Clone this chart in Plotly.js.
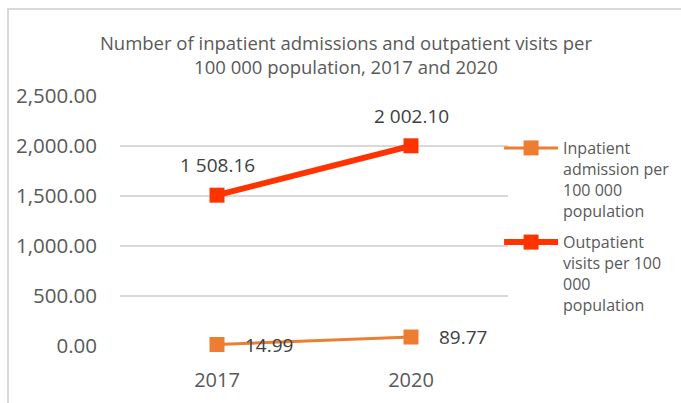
<!DOCTYPE html>
<html><head><meta charset="utf-8">
<script src="https://cdn.plot.ly/plotly-3.0.1.min.js"></script>
<style>
html,body{margin:0;padding:0;overflow:hidden;background:#fff;}
#frame{position:absolute;left:7px;top:8px;width:720px;height:430px;border:2px solid #d9d9d9;pointer-events:none;}
</style>
</head><body>
<div id="chart" style="position:absolute;left:0;top:0;width:681px;height:403px;"></div>
<div id="frame"></div>
<script>
const years = ['2017', '2020'];
const inpatient = [14.99, 89.77];
const outpatient = [1508.16, 2002.10];
const seriesNames = ['Inpatient<br>admission per<br>100 000<br>population', 'Outpatient<br>visits per 100<br>000<br>population'];
const yTicks = [0, 500, 1000, 1500, 2000, 2500];

function fmtSpace(v){
  const s = v.toFixed(2);
  const parts = s.split('.');
  return parts[0].replace(/\B(?=(\d{3})+(?!\d))/g, ' ') + '.' + parts[1];
}
function fmtComma(v){
  const s = v.toFixed(2);
  const parts = s.split('.');
  return parts[0].replace(/\B(?=(\d{3})+(?!\d))/g, ',') + '.' + parts[1];
}

const FONT = 'Open Sans, sans-serif';
const traces = [
  {x: years, y: inpatient, name: seriesNames[0], type: 'scatter', mode: 'lines+markers',
   legendgroup: 'a', cliponaxis: false,
   line: {color: '#ED7D31', width: 3}, marker: {symbol: 'square', size: 15, color: '#ED7D31'}},
  {x: years, y: outpatient, name: seriesNames[1], type: 'scatter', mode: 'lines+markers',
   legendgroup: 'b', cliponaxis: false,
   line: {color: '#FF3300', width: 6}, marker: {symbol: 'square', size: 15, color: '#FF3300'}}
];

const annotations = [];
years.forEach((yr, i) => {
  // category axis: position annotations by category index
  annotations.push({xref: 'x', yref: 'y', x: i, y: inpatient[i], text: fmtSpace(inpatient[i]), showarrow: false,
    xanchor: 'left', yanchor: 'middle', xshift: 26, font: {family: FONT, size: 19, color: '#404040'}});
  annotations.push({xref: 'x', yref: 'y', x: i, y: outpatient[i], text: fmtSpace(outpatient[i]), showarrow: false,
    xanchor: 'center', yanchor: 'middle', yshift: 30, font: {family: FONT, size: 19, color: '#404040'}});
});

const layout = {
  width: 681, height: 403,
  margin: {l: 120, r: 173, t: 96, b: 57, autoexpand: false},
  paper_bgcolor: 'rgba(0,0,0,0)', plot_bgcolor: 'rgba(0,0,0,0)',
  title: {text: 'Number of inpatient admissions and outpatient visits per<br>100 000 population, 2017 and 2020',
    xref: 'container', x: 0.508, xanchor: 'center', yref: 'container', y: 1 - 50/403, yanchor: 'top',
    font: {family: FONT, size: 18.5, color: '#595959'}},
  xaxis: {type: 'category', range: [-0.5, 1.5], showgrid: false, zeroline: false, showline: false,
    ticks: '', ticklabelstandoff: 20, tickfont: {family: FONT, size: 20, color: '#595959'}},
  yaxis: {range: [0, 2500], tickvals: yTicks, ticktext: yTicks.map(fmtComma),
    showgrid: true, gridcolor: '#d9d9d9', gridwidth: 1.5, zeroline: false, showline: false,
    ticks: '', ticklabelstandoff: 22, tickfont: {family: FONT, size: 20.5, color: '#595959'}},
  showlegend: true,
  legend: {x: 0.977, xanchor: 'left', y: 0.86, yanchor: 'top', traceorder: 'grouped', tracegroupgap: 8,
    itemwidth: 54, valign: 'top', bgcolor: 'rgba(0,0,0,0)',
    font: {family: FONT, size: 16, color: '#595959'}},
  annotations: annotations
};

Plotly.newPlot('chart', traces, layout, {displayModeBar: false, staticPlot: true});
</script>
</body></html>
